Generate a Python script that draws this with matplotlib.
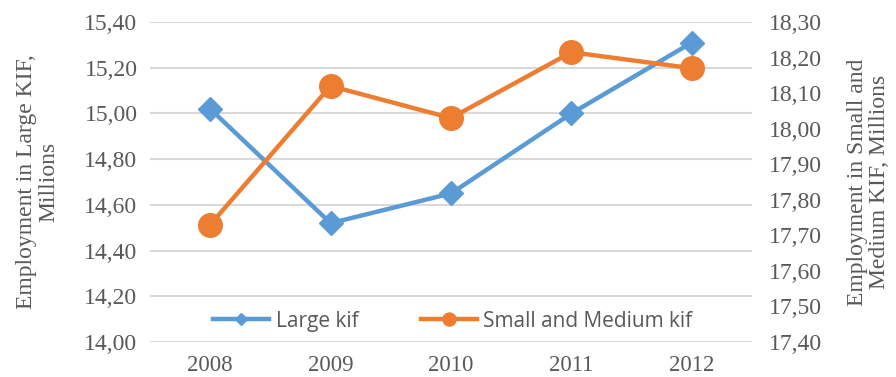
import matplotlib
matplotlib.use("Agg")
import matplotlib.pyplot as plt
import numpy as np

years = ["2008", "2009", "2010", "2011", "2012"]
large_kif = [15.02, 14.52, 14.65, 15.00, 15.31]
small_medium_kif = [17.73, 18.12, 18.03, 18.215, 18.17]

left_ticks = [14.0, 14.2, 14.4, 14.6, 14.8, 15.0, 15.2, 15.4]
right_ticks = [17.4, 17.5, 17.6, 17.7, 17.8, 17.9, 18.0, 18.1, 18.2, 18.3]

blue = "#5b9bd5"
orange = "#ed7d31"
grey_text = "#595959"
grid_col = "#d9d9d9"
serif = ["Liberation Serif", "DejaVu Serif"]


def comma_fmt(v):
    return f"{v:.2f}".replace(".", ",")


fig = plt.figure(figsize=(8.96, 3.77), dpi=100)
ax = fig.add_axes([0.1674, 0.0928, 0.6719, 0.8488])
ax2 = ax.twinx()

x = np.arange(len(years))

ax.set_ylim(14.0, 15.4)
ax.set_yticks(left_ticks)
ax.set_yticklabels([comma_fmt(t) for t in left_ticks], family=serif,
                   fontsize=17, color=grey_text)
ax2.set_ylim(17.4, 18.3)
ax2.set_yticks(right_ticks)
ax2.set_yticklabels([comma_fmt(t) for t in right_ticks], family=serif,
                    fontsize=17, color=grey_text)

ax.set_xlim(-0.5, len(years) - 0.5)
ax.set_xticks(x)
ax.set_xticklabels(years, family=serif, fontsize=16.5, color=grey_text)

for a in (ax, ax2):
    for s in a.spines.values():
        s.set_visible(False)
    a.tick_params(length=0)
ax.tick_params(axis="y", pad=9)
ax2.tick_params(axis="y", pad=12)
ax.tick_params(axis="x", pad=9)

ax.yaxis.grid(True, color=grid_col, linewidth=1.5)
ax.set_axisbelow(True)

l1, = ax.plot(x, large_kif, color=blue, linewidth=3.2, marker="D",
              markersize=12, label="Large kif", zorder=3)
l2, = ax2.plot(x, small_medium_kif, color=orange, linewidth=3.2, marker="o",
               markersize=17, label="Small and Medium kif", zorder=3)

ax.set_ylabel("Employment in Large KIF,\nMillions", family=serif,
              fontsize=17, color=grey_text, labelpad=18, linespacing=1.05)
ax2.set_ylabel("Employment in Small and\nMedium KIF, Millions", family=serif,
               fontsize=17, color=grey_text, rotation=90, labelpad=18,
               linespacing=1.05)

leg = ax2.legend(handles=[l1, l2], loc="center", bbox_to_anchor=(0.503, 0.065),
                 ncol=2, frameon=False, markerscale=0.55, handlelength=2.7,
                 columnspacing=3.0, handletextpad=0.3,
                 prop={"family": ["Open Sans", "DejaVu Sans"], "size": 15})
for t in leg.get_texts():
    t.set_color(grey_text)

fig.savefig("out.png", dpi=100)
